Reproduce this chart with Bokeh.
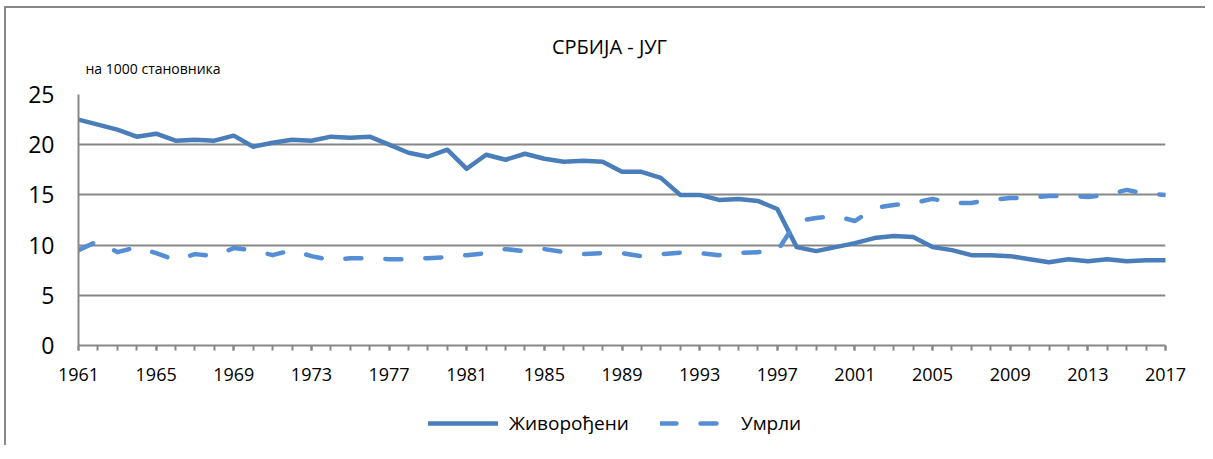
from bokeh.plotting import figure
from bokeh.models import (Range1d, FixedTicker, Legend, LegendItem, Label)
from bokeh.layouts import column
from bokeh.embed import file_html
from bokeh.resources import INLINE

years = [1961, 1962, 1963, 1964, 1965, 1966, 1967, 1968, 1969, 1970,
         1971, 1972, 1973, 1974, 1975, 1976, 1977, 1978, 1979, 1980,
         1981, 1982, 1983, 1984, 1985, 1986, 1987, 1988, 1989, 1990,
         1991, 1992, 1993, 1994, 1995, 1996, 1997, 1998, 1999, 2000,
         2001, 2002, 2003, 2004, 2005, 2006, 2007, 2008, 2009, 2010,
         2011, 2012, 2013, 2014, 2015, 2016, 2017]

births = [22.5, 22.0, 21.5, 20.8, 21.1, 20.4, 20.5, 20.4, 20.9, 19.8,
          20.2, 20.5, 20.4, 20.8, 20.7, 20.8, 20.0, 19.2, 18.8, 19.5,
          17.6, 19.0, 18.5, 19.1, 18.6, 18.3, 18.4, 18.3, 17.3, 17.3,
          16.7, 15.0, 15.0, 14.5, 14.6, 14.4, 13.6, 9.8, 9.4, 9.8,
          10.2, 10.7, 10.9, 10.8, 9.8, 9.5, 9.0, 9.0, 8.9, 8.6,
          8.3, 8.6, 8.4, 8.6, 8.4, 8.5, 8.5]

deaths = [9.5, 10.4, 9.3, 9.8, 9.2, 8.5, 9.1, 8.9, 9.7, 9.5,
          9.0, 9.5, 8.9, 8.5, 8.7, 8.7, 8.6, 8.6, 8.7, 8.8,
          9.0, 9.2, 9.6, 9.4, 9.6, 9.3, 9.1, 9.2, 9.2, 8.9,
          9.1, 9.25, 9.2, 9.0, 9.2, 9.3, 9.4, 12.4, 12.7, 12.9,
          12.4, 13.7, 14.0, 14.2, 14.6, 14.2, 14.2, 14.5, 14.7, 14.7,
          14.9, 14.9, 14.8, 15.0, 15.5, 15.1, 15.0]

x_ticks = [1961, 1965, 1969, 1973, 1977, 1981, 1985, 1989, 1993, 1997,
           2001, 2005, 2009, 2013, 2017]
y_ticks = [0, 5, 10, 15, 20, 25]

title_text = "СРБИЈА - ЈУГ"
unit_text = "на 1000 становника"
series_names = ["Живорођени", "Умрли"]

FONT = "Open Sans"
GRAY = "#878787"
C_BIRTH = "#4A7EBB"
C_DEATH = "#558ED5"
W = 1199
FL, FR = 72, 40          # frame borders shared by all rows (frames are aligned)

# ---------- header (title + unit) ----------
top = figure(width=W, height=70, output_backend="svg", toolbar_location=None,
             x_range=Range1d(FL, W - FR), y_range=Range1d(0, 70),
             x_axis_type=None, y_axis_type=None,
             min_border_left=FL, min_border_right=FR, min_border_top=0,
             min_border_bottom=0)
top.outline_line_color = None
top.grid.visible = False
top.add_layout(Label(x=603, y=32, text=title_text, text_align="center",
                     text_baseline="middle", text_font=FONT,
                     text_font_size="20px", text_color="black"))
top.add_layout(Label(x=79, y=10, text=unit_text, text_align="left",
                     text_baseline="middle", text_font=FONT,
                     text_font_size="14px", text_color="black"))

# ---------- main chart ----------
p = figure(frame_width=1087, frame_height=251, output_backend="svg",
           toolbar_location=None,
           x_range=Range1d(1961, 2017), y_range=Range1d(0, 25),
           min_border_left=FL, min_border_right=FR, min_border_top=16,
           min_border_bottom=50)
p.outline_line_color = None
p.background_fill_color = "white"
p.border_fill_color = "white"

r1 = p.line(years, births, line_color=C_BIRTH, line_width=4.5,
            line_join="round", line_cap="round")
r2 = p.line(years, deaths, line_color=C_DEATH, line_width=4.5,
            line_dash="16 24", line_join="round", line_cap="round")

p.xaxis.ticker = FixedTicker(ticks=x_ticks, minor_ticks=years)
p.xaxis.axis_line_color = GRAY
p.xaxis.axis_line_width = 2
p.xaxis.major_tick_line_color = GRAY
p.xaxis.minor_tick_line_color = GRAY
p.xaxis.major_tick_line_width = 2
p.xaxis.minor_tick_line_width = 2
p.xaxis.major_tick_in = 0
p.xaxis.major_tick_out = 5
p.xaxis.minor_tick_in = 0
p.xaxis.minor_tick_out = 5
p.xaxis.major_label_text_font = FONT
p.xaxis.major_label_text_font_size = "18px"
p.xaxis.major_label_text_color = "black"
p.xaxis.major_label_standoff = 17

p.yaxis.ticker = FixedTicker(ticks=y_ticks)
p.yaxis.axis_line_color = GRAY
p.yaxis.axis_line_width = 2
p.yaxis.major_tick_line_color = None
p.yaxis.minor_tick_line_color = None
p.yaxis.major_tick_out = 0
p.yaxis.major_tick_in = 0
p.yaxis.major_label_text_font = FONT
p.yaxis.major_label_text_font_size = "23px"
p.yaxis.major_label_text_color = "black"
p.yaxis.major_label_standoff = 24

p.xgrid.visible = False
p.ygrid.grid_line_color = GRAY
p.ygrid.grid_line_width = 2

# ---------- legend strip ----------
leg = figure(width=W, height=50, output_backend="svg", toolbar_location=None,
             x_range=Range1d(FL, W - FR), y_range=Range1d(0, 50),
             x_axis_type=None, y_axis_type=None,
             min_border_left=FL, min_border_right=FR, min_border_top=0,
             min_border_bottom=0)
leg.outline_line_color = None
leg.grid.visible = False
# same series, out of this strip's view; only their legend glyphs show
l1 = leg.line(years, births, line_color=C_BIRTH, line_width=4.5,
              line_cap="round")
l2 = leg.line(years, deaths, line_color=C_DEATH, line_width=4.5,
              line_dash="16 24", line_cap="round")

legend = Legend(items=[LegendItem(label=series_names[0], renderers=[l1]),
                       LegendItem(label=series_names[1], renderers=[l2])],
                orientation="horizontal", location=(350, 9))
legend.padding = 0
legend.margin = 0
legend.spacing = 31
legend.label_standoff = 11
legend.glyph_width = 70
legend.glyph_height = 26
legend.label_height = 26
legend.border_line_color = None
legend.background_fill_alpha = 0
legend.label_text_font = FONT
legend.label_text_font_size = "19px"
legend.label_text_color = "black"
leg.add_layout(legend, "center")

layout = column(top, p, leg, spacing=0)
layout.styles = {"margin-left": "4px", "margin-top": "6px",
                 "border-left": "2px solid #878787",
                 "border-top": "2px solid #878787"}

open("out.html", "w").write(file_html(layout, INLINE))
